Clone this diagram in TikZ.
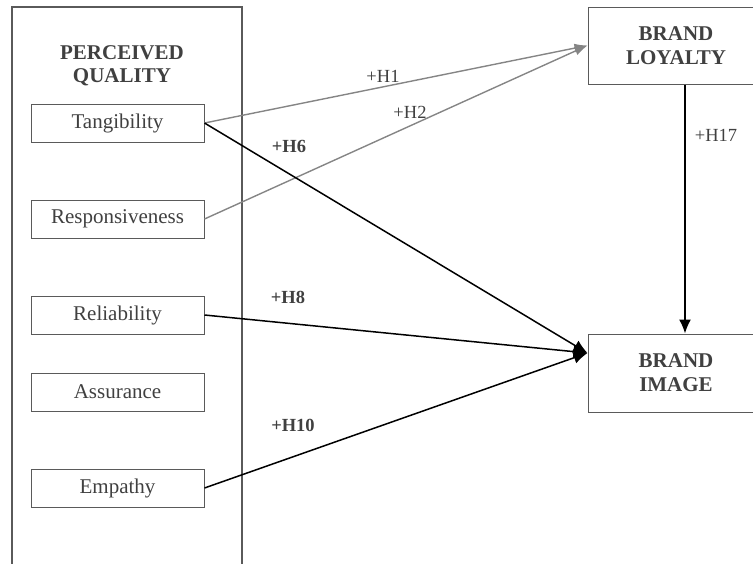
\documentclass[tikz,border=0pt]{standalone}
\usepackage{fontspec}
\setmainfont{Liberation Serif}
\usetikzlibrary{arrows.meta}

\definecolor{txtgray}{HTML}{404040}
\definecolor{boxgray}{HTML}{5A5A5A}
\definecolor{arrgray}{HTML}{858585}

\begin{document}
\begin{tikzpicture}[x=1pt,y=-1pt,
  dimbox/.style={draw=boxgray, line width=1pt, minimum width=173pt, minimum height=38pt,
    inner sep=0pt, text=txtgray, font=\fontsize{21}{24}\selectfont},
  construct/.style={draw=boxgray, line width=1pt, minimum width=176pt, minimum height=77pt,
    inner sep=0pt, align=center, text=txtgray, font=\fontsize{21}{24}\selectfont\bfseries},
  hyp/.style={text=txtgray, inner sep=0pt, font=\fontsize{18.5}{20}\selectfont},
  hypbold/.style={hyp, font=\fontsize{18.5}{20}\selectfont\bfseries},
  grayarrow/.style={draw=arrgray, line width=1.4pt, -{Latex[length=13pt,width=9pt]}},
  blackarrow/.style={draw=black, line width=1.5pt, -{Latex[length=14pt,width=12pt]}}]

\useasboundingbox (0,0) rectangle (753,563);

% Perceived quality container (open at the bottom)
\draw[draw=boxgray, line width=1.2pt] (12,570) -- (12,7) -- (242,7) -- (242,570);
\node[align=center, text=txtgray, font=\fontsize{21}{23}\selectfont\bfseries] (pq) at (122,66) {PERCEIVED\\QUALITY};

% Dimensions
\node[dimbox] (tang) at (117.5,123) {Tangibility};
\node[dimbox] (resp) at (117.5,219) {Responsiveness};
\node[dimbox] (reli) at (117.5,315) {Reliability};
\node[dimbox] (assu) at (117.5,392) {Assurance};
\node[dimbox] (empa) at (117.5,488) {Empathy};

% Brand constructs
\node[construct] (loyal) at (676,45.5) {BRAND\\LOYALTY};
\node[construct, minimum height=78pt] (image) at (676,373) {BRAND\\IMAGE};

% Paths
\draw[grayarrow] (tang.east) -- (loyal.west);
\draw[grayarrow] (resp.east) -- (loyal.west);
\draw[blackarrow] (tang.east) -- ([yshift=20pt]image.west);
\draw[blackarrow] (reli.east) -- ([yshift=20pt]image.west);
\draw[blackarrow] (empa.east) -- ([yshift=20pt]image.west);
\draw[blackarrow] ([xshift=9pt]loyal.south) -- ([xshift=9pt]image.north);

% Hypotheses
\node[hyp] (h1) at (383,76) {+H1};
\node[hyp] (h2) at (410,112) {+H2};
\node[hypbold] (h6) at (289,146) {+H6};
\node[hypbold] (h8) at (288,297) {+H8};
\node[hypbold] (h10) at (293,425) {+H10};
\node[hyp] (h17) at (716,135) {+H17};

\end{tikzpicture}
\end{document}
